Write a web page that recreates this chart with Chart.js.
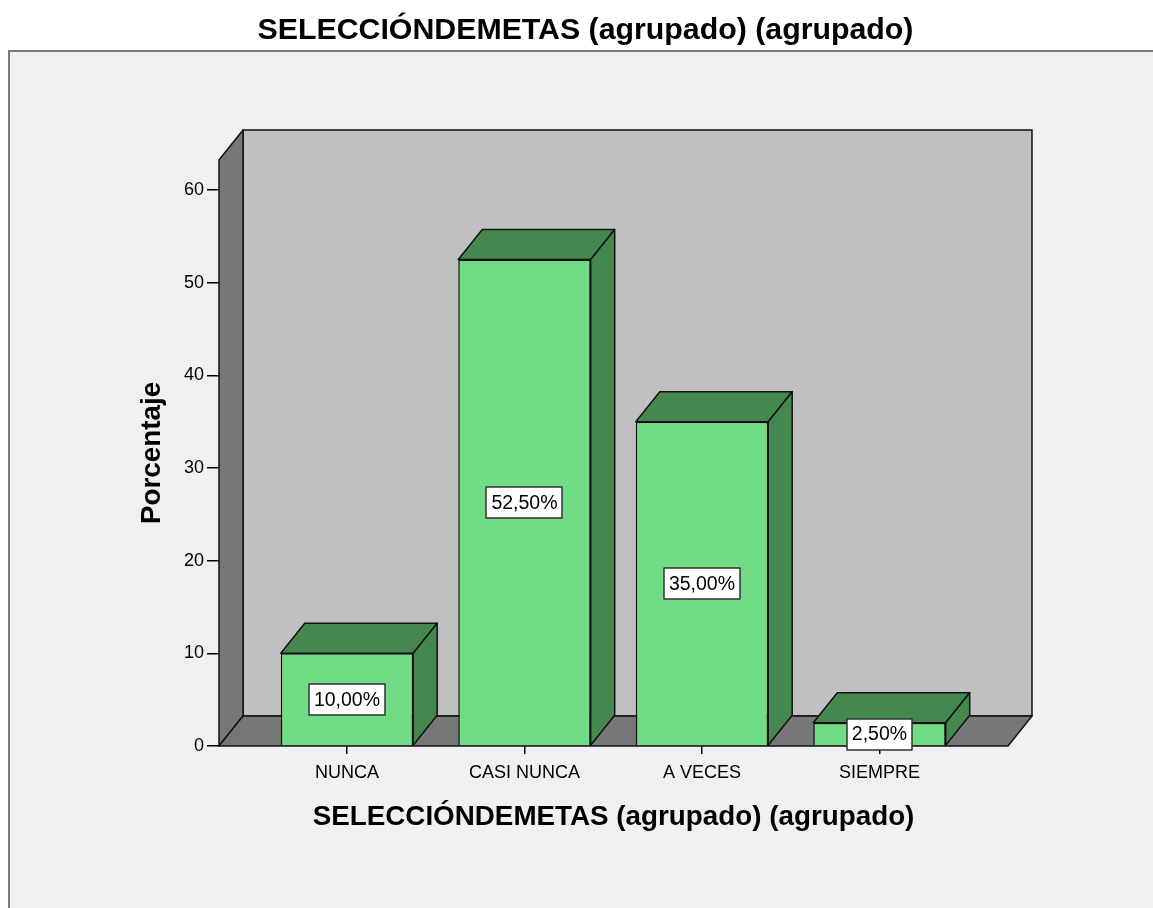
<!DOCTYPE html>
<html><head><meta charset="utf-8">
<script src="https://cdn.jsdelivr.net/npm/chart.js@4.4.0/dist/chart.umd.min.js"></script>
<style>html,body{margin:0;padding:0;background:#fff;}canvas{display:block;}</style>
</head><body>
<canvas id="c" width="1153" height="908"></canvas>
<script>
// ---- data ----
const chartTitle = 'SELECCIÓNDEMETAS (agrupado) (agrupado)';
const xAxisTitle = 'SELECCIÓNDEMETAS (agrupado) (agrupado)';
const yAxisTitle = 'Porcentaje';
const categories = ['NUNCA', 'CASI NUNCA', 'A VECES', 'SIEMPRE'];
const percentages = [10.0, 52.5, 35.0, 2.5];
const valueLabels = ['10,00%', '52,50%', '35,00%', '2,50%'];
const yTicks = [0, 10, 20, 30, 40, 50, 60];

// ---- style ----
const FAM = '"Liberation Sans", Arial, sans-serif';
const DX = 24, DY = -30;
const FRONT = '#71dc86', DARK = '#44884f', WALL = '#c0c0c0', SIDE = '#777777', EDGE = '#111111';

function poly(ctx, pts, fill) {
  ctx.beginPath();
  ctx.moveTo(pts[0][0], pts[0][1]);
  for (let i = 1; i < pts.length; i++) ctx.lineTo(pts[i][0], pts[i][1]);
  ctx.closePath();
  ctx.fillStyle = fill; ctx.fill();
  ctx.strokeStyle = EDGE; ctx.lineWidth = 1.5; ctx.lineJoin = 'round'; ctx.stroke();
}

const threeD = {
  id: 'threeD',
  beforeDraw(chart) {
    const ctx = chart.ctx;
    ctx.save();
    ctx.fillStyle = '#ffffff'; ctx.fillRect(0, 0, chart.width, chart.height);
    ctx.fillStyle = '#f0f0f0'; ctx.fillRect(9, 50, chart.width - 9, chart.height - 50);
    ctx.strokeStyle = '#7a7a7a'; ctx.lineWidth = 2;
    ctx.beginPath(); ctx.moveTo(9, chart.height); ctx.lineTo(9, 51); ctx.lineTo(chart.width, 51); ctx.stroke();
    ctx.restore();
  },
  beforeDatasetsDraw(chart) {
    const ctx = chart.ctx, a = chart.chartArea;
    const L = a.left, R = a.right, T = a.top, B = a.bottom;
    ctx.save();
    poly(ctx, [[L + DX, T + DY], [R + DX, T + DY], [R + DX, B + DY], [L + DX, B + DY]], WALL);
    poly(ctx, [[L, B], [L, T], [L + DX, T + DY], [L + DX, B + DY]], SIDE);
    poly(ctx, [[L, B], [L + DX, B + DY], [R + DX, B + DY], [R, B]], SIDE);
    ctx.restore();
  },
  afterDatasetsDraw(chart) {
    const ctx = chart.ctx;
    const meta = chart.getDatasetMeta(0);
    ctx.save();
    meta.data.forEach((bar) => {
      const x0 = bar.x - bar.width / 2, x1 = bar.x + bar.width / 2, top = bar.y, base = bar.base;
      poly(ctx, [[x0, top], [x0 + DX, top + DY], [x1 + DX, top + DY], [x1, top]], DARK);
      poly(ctx, [[x1, top], [x1 + DX, top + DY], [x1 + DX, base + DY], [x1, base]], DARK);
    });
    ctx.font = '19.5px ' + FAM;
    ctx.textAlign = 'center'; ctx.textBaseline = 'middle';
    meta.data.forEach((bar, i) => {
      const txt = valueLabels[i];
      const w = ctx.measureText(txt).width + 10, h = 31;
      const cx = bar.x, cy = (bar.y + bar.base) / 2;
      ctx.fillStyle = '#ffffff';
      ctx.fillRect(Math.round(cx - w / 2), Math.round(cy - h / 2), Math.round(w), h);
      ctx.strokeStyle = '#333333'; ctx.lineWidth = 1.5;
      ctx.strokeRect(Math.round(cx - w / 2), Math.round(cy - h / 2), Math.round(w), h);
      ctx.fillStyle = '#000000';
      ctx.fillText(txt, cx, cy + 1);
    });
    ctx.restore();
  }
};

new Chart(document.getElementById('c'), {
  type: 'bar',
  data: {
    datasets: [{
      data: percentages.map((v, i) => ({ x: i, y: v })),
      backgroundColor: FRONT,
      borderColor: EDGE,
      borderWidth: 1.5,
      categoryPercentage: 1,
      barPercentage: 0.746
    }]
  },
  plugins: [threeD],
  options: {
    responsive: false,
    animation: false,
    devicePixelRatio: 1,
    layout: { padding: { left: 18, right: 0, top: 0, bottom: 0 } },
    plugins: {
      legend: { display: false },
      tooltip: { enabled: false },
      title: {
        display: true, text: chartTitle, color: '#000',
        font: { family: FAM, size: 30.3, weight: 'bold', lineHeight: 1.2 },
        padding: { top: 12, bottom: 111.6 }
      }
    },
    scales: {
      x: {
        type: 'linear', min: -0.721, max: 3.724, bounds: 'data', offset: false,
        afterBuildTicks: (s) => { s.ticks = categories.map((c, i) => ({ value: i })); },
        ticks: {
          callback: (v) => categories[v] !== undefined ? categories[v] : '',
          font: { family: FAM, size: 18 }, color: '#000', padding: 8,
          autoSkip: false, maxRotation: 0
        },
        grid: { offset: false, drawOnChartArea: false, drawTicks: true, tickLength: 8, color: '#000', lineWidth: 1.5 },
        border: { display: false },
        title: {
          display: true, text: xAxisTitle, color: '#000',
          font: { family: FAM, size: 27.8, weight: 'bold', lineHeight: 1.2 },
          padding: { top: 0, bottom: 74.3 }
        },
        afterFit: (s) => { s.height = 162; }
      },
      y: {
        min: 0, max: 63.24, bounds: 'data',
        afterBuildTicks: (s) => { s.ticks = yTicks.map((v) => ({ value: v })); },
        ticks: { font: { family: FAM, size: 18 }, color: '#000', padding: 3 },
        grid: { drawOnChartArea: false, drawTicks: true, tickLength: 12, color: '#000', lineWidth: 1.5 },
        border: { display: false },
        title: {
          display: true, text: yAxisTitle, color: '#000',
          font: { family: FAM, size: 27.8, weight: 'bold', lineHeight: 1.2 },
          padding: { top: 118, bottom: 0 }
        },
        afterFit: (s) => { s.width = 201; }
      },
      y2: {
        position: 'right', display: true,
        ticks: { display: false }, grid: { display: false }, border: { display: false },
        afterFit: (s) => { s.width = 145; }
      }
    }
  }
});
</script>
</body></html>
